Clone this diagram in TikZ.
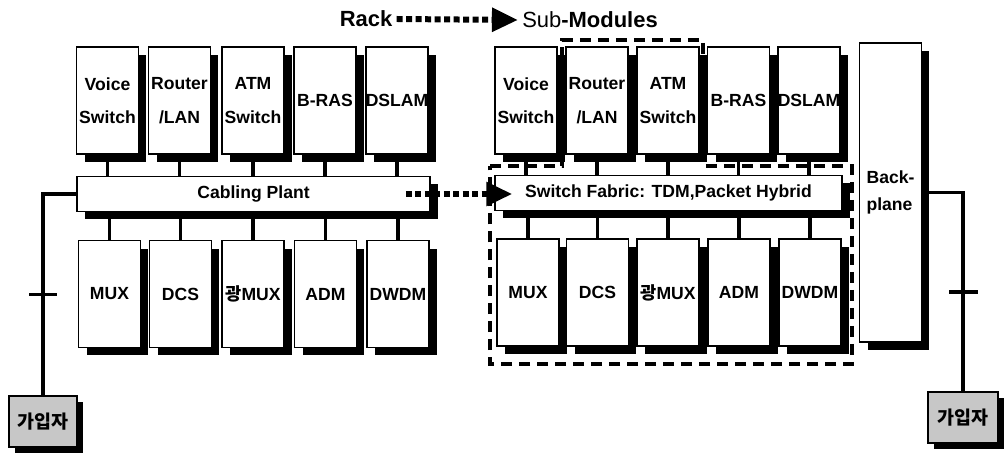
\documentclass[tikz,border=0pt]{standalone}
\usepackage{fontspec}
\setmainfont{Liberation Sans}
\newfontfamily\kr{Noto Sans CJK KR}
\usepackage{tikz}
\usetikzlibrary{positioning,calc,shadows,arrows.meta}

\begin{document}
\begin{tikzpicture}[x=0.02cm, y=-0.02cm,
  unit/.style={rectangle, draw=black, line width=0.9pt, fill=white, inner sep=0pt,
    minimum width=1.24cm, minimum height=2.14cm, align=center,
    font=\bfseries\fontsize{10}{19}\selectfont,
    drop shadow={shadow xshift=0.16cm, shadow yshift=-0.16cm, fill=black, opacity=1}},
  bus/.style={unit, minimum height=0.7cm},
  subscr/.style={rectangle, draw=black, line width=0.9pt, fill=black!22, inner sep=0pt,
    minimum width=1.36cm, minimum height=1.02cm, font=\kr\bfseries\fontsize{10.5}{12}\selectfont,
    drop shadow={shadow xshift=0.12cm, shadow yshift=-0.12cm, fill=black, opacity=1}},
  link/.style={black, line width=2pt},
  tickmark/.style={rectangle, fill=black, inner sep=0pt, minimum width=0.58cm, minimum height=0.07cm},
  dotline/.style={black, line width=0.12cm, dash pattern=on 0.12cm off 0.07cm,
    -{Triangle[length=0.52cm, width=0.46cm]}},
  region/.style={black, line width=2pt, dash pattern=on 0.22cm off 0.14cm},
  heading/.style={font=\bfseries\fontsize{12.5}{14}\selectfont, inner sep=0.08cm},
]
\useasboundingbox (0,0) rectangle (1005,455);

% titles
\node[heading] (rack) at (366,19) {Rack};
\node[heading] (submod) at (590,20) {\mdseries Sub\bfseries-Modules};
\draw[dotline] (rack.east) -- (submod.west);

% buses
\node[bus, minimum width=7.06cm] (cp) at (253.5,194) {Cabling Plant};
\node[bus, minimum width=6.94cm] (sf) at (668.5,193) {Switch Fabric: TDM,Packet Hybrid};
\node[unit, minimum height=5.98cm, font=\bfseries\fontsize{10}{15}\selectfont, align=left] (bp) at (890.5,192.5) {Back-\\plane};

% modules
\foreach \i/\xl/\xr/\lbl in {1/107.5/526/{Voice\\Switch}, 2/179.5/597/{Router\\/LAN},
    3/253/668/{ATM\\Switch}, 4/325/738.5/{B-RAS}, 5/397/809/{DSLAM}} {
  \node[unit] (lt\i) at (\xl,100.5) {\lbl};
  \node[unit] (rt\i) at (\xr,100.5) {\lbl};
  \draw[link] (lt\i.south) -- (lt\i.south |- cp.north);
  \draw[link] (rt\i.south) -- (rt\i.south |- sf.north);
}
\foreach \i/\xl/\xr/\lbl in {1/109.5/528/{MUX}, 2/180.5/597.5/{DCS},
    3/253/668/{{\kr 광}MUX}, 4/325.5/739/{ADM}, 5/398/810/{DWDM}} {
  \node[unit] (lb\i) at (\xl,294) {\lbl};
  \node[unit] (rb\i) at (\xr,292.5) {\lbl};
  \draw[link] (cp.south -| lb\i.north) -- (lb\i.north);
  \draw[link] (sf.south -| rb\i.north) -- (rb\i.north);
}

% sub-module boundary
\draw[region] (490,166) -- (562,166) -- (562,40) -- (703,40) -- (703,166)
  -- (852,166) -- (852,364) -- (490,364) -- cycle;

\draw[dotline] ($(cp.east)+(-25,0)$) -- ($(sf.west |- cp.east)+(18,0)$);

% subscribers
\node[subscr] (s1) at (43,421.5) {가입자};
\node[subscr, minimum width=1.4cm] (s2) at (963,417.5) {가입자};
\draw[link] (cp.west) -| node[pos=0.75, tickmark] {} (s1.north);
\draw[link] (bp.east) -| node[pos=0.75, tickmark] {} (s2.north);
\end{tikzpicture}
\end{document}
